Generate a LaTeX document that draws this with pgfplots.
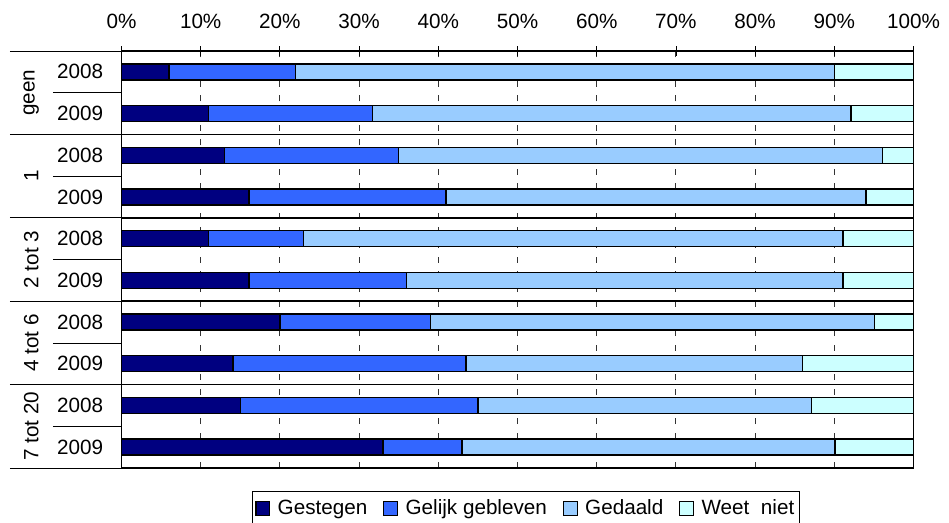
\documentclass[border=0pt]{standalone}
\usepackage{fontspec}
\setmainfont{Liberation Sans}
\usepackage{pgfplots}
\usepackage{pgfplotstable}
\pgfplotsset{compat=1.18}
\definecolor{c1}{HTML}{000080}
\definecolor{c2}{HTML}{3366FF}
\definecolor{c3}{HTML}{99CCFF}
\definecolor{c4}{HTML}{CCFFFF}
\pgfplotstableread{
y g gg gd wn
9 6 16 68 10
8 11 20.7 60.4 7.9
7 13 22 61.1 3.9
6 16.1 24.9 53 6
5 11 12 68.1 8.9
4 16.1 19.9 55.1 8.9
3 20 19 56.1 4.9
2 14.1 29.4 42.5 14
1 15 30 42.1 12.9
0 33 10 47.1 9.9
}\datatable
\begin{document}
\begin{tikzpicture}
\fontsize{15.5}{18}\selectfont
\path[use as bounding box] (-91.125pt,-40.5pt) rectangle (620.625pt,351pt);
\begin{axis}[
  scale only axis, width=594pt, height=312.75pt,
  xbar stacked, bar width=12pt,
  xmin=0, xmax=100, ymin=-0.5, ymax=9.5,
  clip=false,
  xtick={0,10,...,100},
  xtick pos=upper,
  xticklabel pos=upper,
  xticklabel={\pgfmathparse{int(round(\tick))}\pgfmathresult\%},
  xticklabel style={font=\fontsize{15.5}{18}\selectfont, yshift=7.5pt},
  tick align=center, major tick length=7pt,
  x tick style={black, line width=0.6pt},
  grid=major, xmajorgrids=true, ymajorgrids=false,
  grid style={black!80, line width=0.7pt, dash pattern=on 4.5pt off 6.5pt},
  ytick={0,...,9},
  yticklabels={2009,2008,2009,2008,2009,2008,2009,2008,2009,2008},
  y tick style={draw=none},
  yticklabel style={font=\fontsize{15.5}{18}\selectfont, xshift=-5pt},
  axis line style={black, line width=0.8pt},
  every axis plot/.append style={draw=black, line width=1.1pt},
  legend columns=4,
  legend style={at={(0.511,-0.055)}, anchor=north, draw=black, line width=0.7pt,
    font=\fontsize{15.5}{18}\selectfont, inner xsep=2pt, inner ysep=4pt,
    /tikz/every even column/.append style={column sep=10pt},
    /tikz/every odd column/.append style={column sep=3.5pt}},
  legend image code/.code={\draw[#1, line width=0.8pt] (0pt,-5.2pt) rectangle (10.4pt,5.2pt);},
]
\addplot[fill=c1] table[x=g, y=y] {\datatable};
\addplot[fill=c2] table[x=gg, y=y] {\datatable};
\addplot[fill=c3] table[x=gd, y=y] {\datatable};
\addplot[fill=c4] table[x=wn, y=y] {\datatable};
\legend{Gestegen, Gelijk gebleven, Gedaald, Weet\ \ niet}
% label area lines
\draw[black, line width=0.6pt] (axis cs:-14.08,9.5) -- (axis cs:0,9.5);
\draw[black, line width=0.6pt] (axis cs:-14.08,-0.5) -- (axis cs:0,-0.5);
\draw[black, line width=0.6pt] (axis cs:-14.08,7.5) -- (axis cs:0,7.5);
\draw[black, line width=0.6pt] (axis cs:-14.08,5.5) -- (axis cs:0,5.5);
\draw[black, line width=0.6pt] (axis cs:-14.08,3.5) -- (axis cs:0,3.5);
\draw[black, line width=0.6pt] (axis cs:-14.08,1.5) -- (axis cs:0,1.5);
\draw[black, line width=1.3pt] (axis cs:0,7.5) -- (axis cs:100,7.5);
\draw[black, line width=1.3pt] (axis cs:0,5.5) -- (axis cs:100,5.5);
\draw[black, line width=1.3pt] (axis cs:0,3.5) -- (axis cs:100,3.5);
\draw[black, line width=1.3pt] (axis cs:0,1.5) -- (axis cs:100,1.5);
\draw[black, line width=0.6pt] (axis cs:-8.65,8.5) -- (axis cs:0,8.5);
\draw[black, line width=0.6pt] (axis cs:-8.65,6.5) -- (axis cs:0,6.5);
\draw[black, line width=0.6pt] (axis cs:-8.65,4.5) -- (axis cs:0,4.5);
\draw[black, line width=0.6pt] (axis cs:-8.65,2.5) -- (axis cs:0,2.5);
\draw[black, line width=0.6pt] (axis cs:-8.65,0.5) -- (axis cs:0,0.5);
\node[rotate=90] at (axis cs:-11.4,8.5) {geen};
\node[rotate=90] at (axis cs:-11.4,6.5) {1};
\node[rotate=90] at (axis cs:-11.4,4.5) {2 tot 3};
\node[rotate=90] at (axis cs:-11.4,2.5) {4 tot 6};
\node[rotate=90] at (axis cs:-11.4,0.5) {7 tot 20};
\end{axis}
\end{tikzpicture}
\end{document}
